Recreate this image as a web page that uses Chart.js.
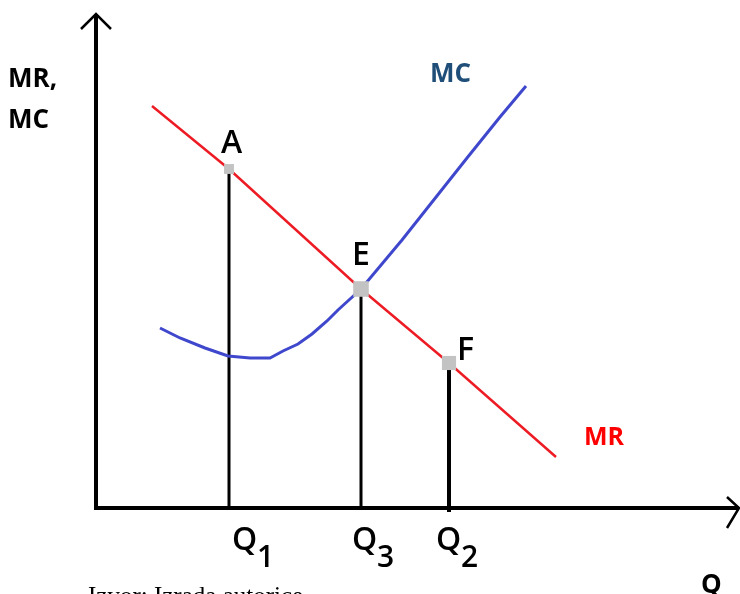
<!DOCTYPE html>
<html>
<head>
<meta charset="utf-8">
<title>MR i MC</title>
<script src="https://cdn.jsdelivr.net/npm/chart.js@4.4.1/dist/chart.umd.min.js"></script>
<style>
    html, body { margin: 0; padding: 0; background: #fff; }
    #wrap { width: 740px; height: 594px; position: relative; }
</style>
</head>
<body>
<div id="wrap"><canvas id="chart" width="740" height="594"></canvas></div>
<script>
// krivulja MR (pravac koji prolazi kroz A, E i F)
const mrQ = [5.6, 13.3, 26.5, 35.3, 46.0];
const mrP = [40.2, 33.9, 21.9, 14.5, 5.1];

// krivulja MC
const mcQ = [6.4, 8.4, 10.9, 13.2, 15.4, 17.4, 18.7, 20.2, 21.6, 23.1, 24.2, 26.5, 30.6, 37.1, 40.4, 43.0];
const mcP = [18.0, 17.0, 16.0, 15.2, 15.0, 15.0, 15.7, 16.4, 17.4, 18.7, 19.8, 21.9, 26.8, 35.0, 39.1, 42.2];

// točke A, E, F i pripadne količine
const pointNames = ["A", "E", "F"];
const pointQ = [13.3, 26.5, 35.3];
const pointP = [33.9, 21.9, 14.5];
const pointSize = [7, 11, 10];
const qNames = ["1", "3", "2"];

const RED = "#ed1c24";
const BLUE = "#3f48cc";
const GREY = "#c3c3c3";

function toXY(xs, ys) {
    return xs.map((x, i) => ({x: x, y: ys[i]}));
}

let datasets = [];

// okomite crte od točke do osi Q
pointQ.forEach((q, i) => {
    datasets.push({
        data: [{x: q, y: i == 2 ? -0.4 : 0}, {x: q, y: pointP[i]}],
        showLine: true,
        borderColor: "#000",
        borderWidth: i == 2 ? 4 : 3,
        pointRadius: 0,
        order: 3
    });
});

datasets.push({
    label: "MR",
    data: toXY(mrQ, mrP),
    showLine: true,
    borderColor: RED,
    borderWidth: 2.5,
    pointRadius: 0,
    order: 2
});

datasets.push({
    label: "MC",
    data: toXY(mcQ, mcP),
    showLine: true,
    borderColor: BLUE,
    borderWidth: 3,
    pointRadius: 0,
    order: 2
});

datasets.push({
    label: "točke",
    data: toXY(pointQ, pointP),
    pointStyle: "rect",
    pointRadius: pointSize,
    backgroundColor: GREY,
    borderWidth: 0,
    order: 1
});

// osi sa strelicama i sve oznake
const axesAndText = {
    id: "axesAndText",
    beforeDatasetsDraw(chart) {
        const ctx = chart.ctx;
        const xs = chart.scales.x, ys = chart.scales.y;
        const x0 = xs.getPixelForValue(0), y0 = ys.getPixelForValue(0);
        const xEnd = xs.getPixelForValue(64.3), yEnd = ys.getPixelForValue(49.4);
        ctx.save();
        ctx.strokeStyle = "#000";
        ctx.lineWidth = 4;
        ctx.beginPath();
        ctx.moveTo(x0, y0 + 2);
        ctx.lineTo(x0, yEnd);
        ctx.moveTo(x0 - 2, y0);
        ctx.lineTo(xEnd, y0);
        ctx.stroke();
        ctx.lineWidth = 2.5;
        ctx.beginPath();
        ctx.moveTo(x0 - 15, yEnd + 15);
        ctx.lineTo(x0, yEnd);
        ctx.lineTo(x0 + 15, yEnd + 15);
        ctx.moveTo(xEnd - 12, y0 - 11);
        ctx.lineTo(xEnd, y0);
        ctx.lineTo(xEnd - 12, y0 + 20);
        ctx.stroke();
        ctx.restore();
    },
    afterDatasetsDraw(chart) {
        const ctx = chart.ctx;
        const xs = chart.scales.x, ys = chart.scales.y;
        ctx.save();
        ctx.textBaseline = "alphabetic";
        ctx.textAlign = "left";

        ctx.fillStyle = "#000";
        ctx.font = "bold 26px 'Open Sans'";
        ctx.fillText("MR,", 8, 87);
        ctx.fillText("MC", 8, 128);
        ctx.fillText("Q", 701, 593);

        ctx.fillStyle = "#1f4e79";
        ctx.fillText("MC", 430, 82);
        ctx.fillStyle = "#ff0000";
        ctx.font = "bold 25px 'Open Sans'";
        ctx.fillText("MR", 584, 445);

        // slova uz točke
        const letterShift = [[-8, -16], [-9, -24], [8, -3]];
        ctx.fillStyle = "#000";
        ctx.font = "600 32px 'Open Sans'";
        pointNames.forEach((name, i) => {
            const px = xs.getPixelForValue(pointQ[i]);
            const py = ys.getPixelForValue(pointP[i]);
            ctx.fillText(name, px + letterShift[i][0], py + letterShift[i][1]);
        });

        // Q1, Q3, Q2 ispod osi
        const qShift = [3, -9, -13];
        pointQ.forEach((q, i) => {
            const px = xs.getPixelForValue(q) + qShift[i];
            ctx.font = "600 32px 'Open Sans'";
            ctx.fillText("Q", px, 550);
            ctx.font = "600 30px 'Open Sans'";
            ctx.fillText(qNames[i], px + 25, 567);
        });

        ctx.font = "25px 'Liberation Serif'";
        ctx.fillText("Izvor: Izrada autorice", 88, 604);
        ctx.restore();
    }
};

new Chart(document.getElementById("chart"), {
    type: "scatter",
    data: {datasets: datasets},
    options: {
        responsive: false,
        animation: false,
        layout: {padding: 0, autoPadding: false},
        scales: {
            x: {type: "linear", min: -9.6, max: 64.4, display: false},
            y: {type: "linear", min: -8.6, max: 50.8, display: false}
        },
        plugins: {
            legend: {display: false},
            tooltip: {enabled: false}
        }
    },
    plugins: [axesAndText]
});
</script>
</body>
</html>
